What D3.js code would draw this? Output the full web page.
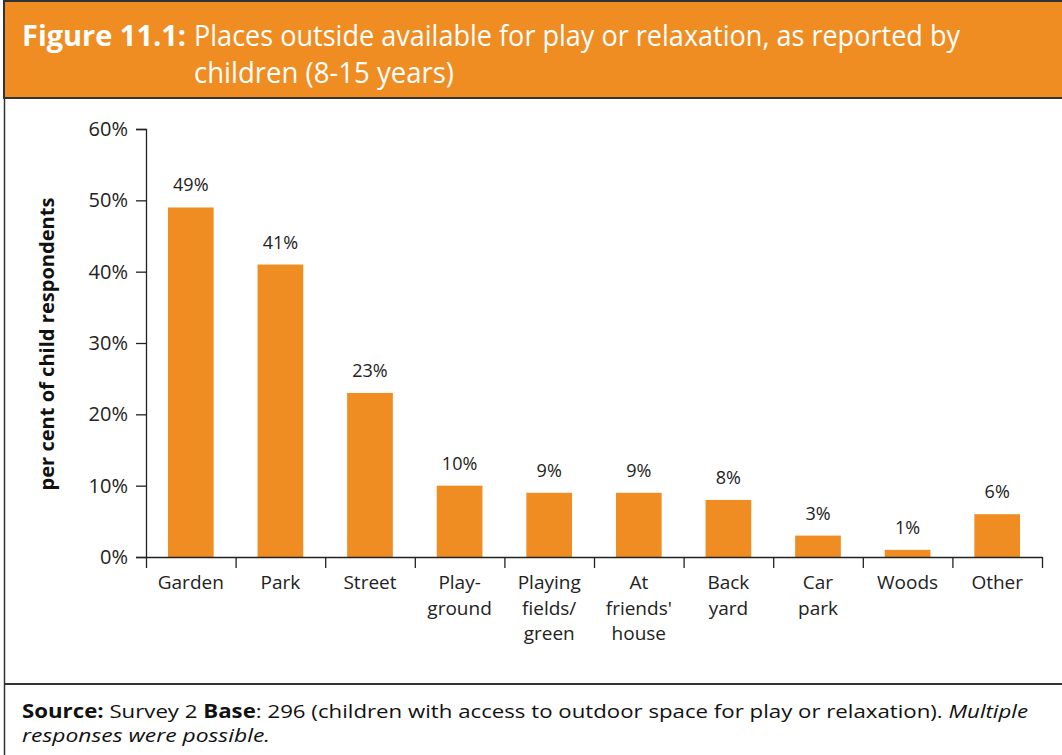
<!DOCTYPE html>
<html>
<head>
<meta charset="utf-8">
<script src="https://cdn.jsdelivr.net/npm/d3@7"></script>
<style>
  body { margin: 0; background: #fff; }
  svg { display: block; font-family: "Open Sans", "DejaVu Sans", sans-serif; }
</style>
</head>
<body>
<div id="chart"></div>
<script>
const categories = ["Garden", "Park", "Street", "Play-|ground", "Playing|fields/|green", "At|friends'|house", "Back|yard", "Car|park", "Woods", "Other"];
const values = [49, 41, 23, 10, 9, 9, 8, 3, 1, 6];
const yTicks = [0, 10, 20, 30, 40, 50, 60];

let width = 1062,
  height = 755,
  orange = "#EF8D22",
  plotLeft = 146,
  plotRight = 1042,
  plotTop = 129,
  plotBottom = 557;

let svg = d3.select("#chart").append("svg").attr("width", width).attr("height", height);

// frame + header
svg.append("rect").attr("x", 4).attr("y", 1).attr("width", width + 10).attr("height", 97)
  .attr("fill", orange).attr("stroke", "#333").attr("stroke-width", 2);
svg.append("line").attr("x1", 4.5).attr("x2", 4.5).attr("y1", 98).attr("y2", height).attr("stroke", "#333").attr("stroke-width", 1.5);
svg.append("line").attr("x1", 4).attr("x2", width).attr("y1", 684).attr("y2", 684).attr("stroke", "#333").attr("stroke-width", 2);

let title = svg.append("text").attr("fill", "#fff").attr("font-size", 29);
title.append("tspan").attr("x", 22).attr("y", 46).attr("font-weight", "bold")
  .attr("textLength", 164).attr("lengthAdjust", "spacingAndGlyphs").text("Figure 11.1:");
title.append("tspan").attr("x", 194).attr("y", 46)
  .attr("textLength", 766).attr("lengthAdjust", "spacingAndGlyphs").text("Places outside available for play or relaxation, as reported by");
title.append("tspan").attr("x", 194).attr("y", 83)
  .attr("textLength", 260).attr("lengthAdjust", "spacingAndGlyphs").text("children (8-15 years)");

let xScale = d3.scaleBand().domain(categories).range([plotLeft, plotRight]).paddingInner(0.49).paddingOuter(0.245);
let xTickScale = d3.scaleLinear().domain([0, categories.length]).range([plotLeft, plotRight]);
let yScale = d3.scaleLinear().domain([0, 60]).range([plotBottom, plotTop]);

// bars
svg.selectAll("rect.bar").data(values).enter().append("rect")
  .attr("class", "bar")
  .attr("x", (d, i) => xScale(categories[i]))
  .attr("y", (d) => yScale(d))
  .attr("width", xScale.bandwidth())
  .attr("height", (d) => plotBottom - yScale(d))
  .attr("fill", orange);

// value labels
svg.selectAll("text.val").data(values).enter().append("text")
  .attr("class", "val")
  .attr("x", (d, i) => xScale(categories[i]) + xScale.bandwidth() / 2)
  .attr("y", (d) => yScale(d) - 16)
  .attr("text-anchor", "middle").attr("font-size", 18).attr("fill", "#222")
  .text((d) => d + "%");

// y axis
let yAxis = d3.axisLeft(yScale).tickValues(yTicks).tickFormat((d) => d + "%").tickSize(10).tickPadding(8);
let gy = svg.append("g").attr("transform", "translate(" + plotLeft + ",0)").call(yAxis);
gy.selectAll("text").attr("font-size", 20).attr("fill", "#222").attr("font-family", "Open Sans");
gy.selectAll("line, path").attr("stroke", "#222").attr("stroke-width", 1.3);

// x axis (ticks at band edges)
let xAxis = d3.axisBottom(xTickScale).ticks(categories.length).tickFormat("").tickSize(11).tickSizeOuter(0);
let gx = svg.append("g").attr("transform", "translate(0," + plotBottom + ")").call(xAxis);
gx.selectAll("line, path").attr("stroke", "#222").attr("stroke-width", 1.3);

// category labels
svg.selectAll("text.cat").data(categories).enter().append("text")
  .attr("class", "cat")
  .attr("x", (d) => xScale(d) + xScale.bandwidth() / 2)
  .attr("y", plotBottom + 32)
  .attr("text-anchor", "middle").attr("font-size", 19).attr("fill", "#222")
  .each(function (d) {
    d.split("|").forEach((line, j) => {
      d3.select(this).append("tspan")
        .attr("x", xScale(d) + xScale.bandwidth() / 2)
        .attr("dy", j === 0 ? 0 : 25.5)
        .text(line);
    });
  });

// y title
svg.append("text")
  .attr("transform", "translate(54," + ((plotTop + plotBottom) / 2 + 1) + ") rotate(-90)")
  .attr("text-anchor", "middle").attr("font-size", 19).attr("font-weight", "bold").attr("fill", "#111")
  .attr("textLength", 293).attr("lengthAdjust", "spacingAndGlyphs")
  .text("per cent of child respondents");

// source note
let src = svg.append("text").attr("font-size", 19).attr("fill", "#111");
let l1 = src.append("tspan").attr("x", 22).attr("y", 718)
  .attr("textLength", 1006).attr("lengthAdjust", "spacingAndGlyphs");
l1.append("tspan").attr("font-weight", "bold").text("Source:");
l1.append("tspan").text(" Survey 2 ");
l1.append("tspan").attr("font-weight", "bold").text("Base");
l1.append("tspan").text(": 296 (children with access to outdoor space for play or relaxation). ");
l1.append("tspan").attr("font-style", "italic").text("Multiple");
src.append("tspan").attr("x", 22).attr("y", 742).attr("font-style", "italic")
  .attr("textLength", 248).attr("lengthAdjust", "spacingAndGlyphs").text("responses were possible.");
</script>
</body>
</html>
